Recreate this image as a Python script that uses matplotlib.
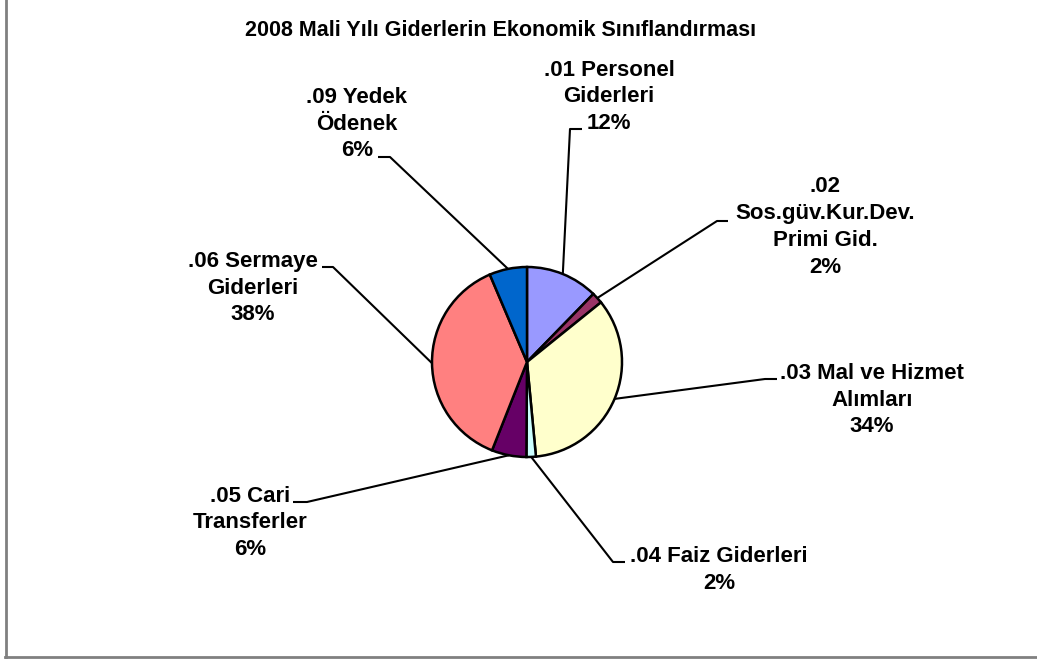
import numpy as np
import matplotlib
matplotlib.use("Agg")
import matplotlib.pyplot as plt

# ---- data ----
categories = [".01 Personel\nGiderleri",
              ".02\nSos.güv.Kur.Dev.\nPrimi Gid.",
              ".03 Mal ve Hizmet\nAlımları",
              ".04 Faiz Giderleri",
              ".05 Cari\nTransferler",
              ".06 Sermaye\nGiderleri",
              ".09 Yedek\nÖdenek"]
values = [12.3, 1.9, 34.3, 1.6, 5.9, 37.6, 6.4]
colors = ["#9999FF", "#993366", "#FFFFCC", "#CCFFFF", "#660066", "#FF8080", "#0066CC"]
title = "2008 Mali Yılı Giderlerin Ekonomik Sınıflandırması"

# ---- layout (pixel coords, y from top) ----
W, H = 1037, 661
center_px = (527, 362)
radius_px = 95
# text block centres
text_pos = [(609, 97), (825, 227), (872, 400), (719, 570), (250, 523), (253, 288), (357, 124)]
# horizontal elbow segment: (outer x, inner x, y); diagonal runs from inner x to wedge edge
elbows = [(582, 570, 129), (728, 717, 221), (777, 765, 379), (625, 613, 562),
          (293, 307, 502), (322, 333, 267), (378, 390, 157)]

fig = plt.figure(figsize=(W / 100, H / 100), dpi=100)
ax = fig.add_axes([0, 0, 1, 1])

def fy(y):
    return H - y

font = dict(family=["Liberation Sans", "DejaVu Sans"], fontweight="bold", fontsize=16)

wedges, _ = ax.pie(values, colors=colors, startangle=90, counterclock=False,
                   center=(center_px[0], fy(center_px[1])), radius=radius_px,
                   wedgeprops=dict(edgecolor="black", linewidth=1.8))
ax.set_xlim(0, W)
ax.set_ylim(0, H)
ax.set_aspect("equal")
ax.axis("off")

total = sum(values)
for w, lab, v, tp, el in zip(wedges, categories, values, text_pos, elbows):
    mid = np.deg2rad((w.theta1 + w.theta2) / 2)
    ex = center_px[0] + radius_px * np.cos(mid)
    ey = fy(center_px[1]) + radius_px * np.sin(mid)
    xo, xi, yy = el
    ax.plot([xo, xi, ex], [fy(yy), fy(yy), ey], color="black", lw=1.5,
            solid_capstyle="butt", zorder=0)
    pct = f"{round(v / total * 100):.0f}%"
    ax.text(tp[0], fy(tp[1]), f"{lab}\n{pct}", ha="center", va="center",
            multialignment="center", linespacing=1.37, **font)

ax.text(501, fy(31), title, ha="center", va="center",
        family=["Liberation Sans", "DejaVu Sans"], fontweight="bold", fontsize=15.5)

# chart area border (left and bottom visible)
ax.plot([5.5, 5.5], [fy(0), fy(656.5)], color="#808080", lw=2, clip_on=False)
ax.plot([5, W], [fy(656.5), fy(656.5)], color="#808080", lw=2, clip_on=False)

fig.savefig("out.png", dpi=100)
